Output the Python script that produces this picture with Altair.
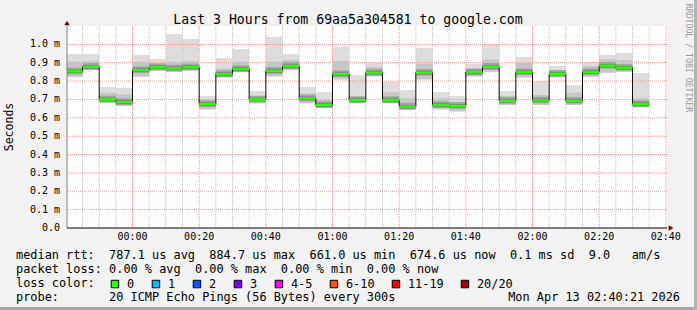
import altair as alt
import pandas as pd

# ---------------- data ----------------
step_start = ["23:40", "23:45", "23:50", "23:55",
              "00:00", "00:05", "00:10", "00:15", "00:20", "00:25", "00:30", "00:35",
              "00:40", "00:45", "00:50", "00:55", "01:00", "01:05", "01:10", "01:15",
              "01:20", "01:25", "01:30", "01:35", "01:40", "01:45", "01:50", "01:55",
              "02:00", "02:05", "02:10", "02:15", "02:20", "02:25", "02:30"]
median_ms = [0.853, 0.878, 0.700, 0.686,
             0.860, 0.876, 0.869, 0.876, 0.675, 0.838, 0.866, 0.700,
             0.856, 0.882, 0.706, 0.670, 0.838, 0.697, 0.846, 0.697,
             0.661, 0.846, 0.670, 0.665, 0.848, 0.878, 0.693, 0.849,
             0.695, 0.840, 0.693, 0.849, 0.884, 0.873, 0.675]
smoke_max = [0.947, 0.947, 0.768, 0.762,
             0.942, 0.920, 1.056, 1.029, 0.719, 0.925, 0.974, 0.746,
             1.041, 0.947, 0.768, 0.740, 0.987, 0.833, 0.900, 0.797,
             0.751, 0.980, 0.740, 0.719, 0.893, 1.002, 0.746, 0.931,
             0.800, 0.882, 0.778, 0.904, 0.942, 0.953, 0.844]
smoke_upper = [0.905, 0.911, 0.737, 0.729,
               0.905, 0.896, 0.905, 0.911, 0.697, 0.869, 0.905, 0.719,
               0.905, 0.915, 0.733, 0.697, 0.911, 0.715, 0.878, 0.740,
               0.706, 0.893, 0.706, 0.688, 0.869, 0.918, 0.719, 0.900,
               0.724, 0.860, 0.737, 0.882, 0.918, 0.915, 0.706]
smoke_min = [0.824, 0.860, 0.682, 0.664,
             0.824, 0.855, 0.851, 0.857, 0.646, 0.820, 0.849, 0.679,
             0.826, 0.860, 0.679, 0.657, 0.809, 0.679, 0.826, 0.679,
             0.646, 0.809, 0.646, 0.635, 0.826, 0.851, 0.670, 0.820,
             0.670, 0.820, 0.670, 0.824, 0.846, 0.851, 0.657]

x_tick_labels = ["00:00", "00:20", "00:40", "01:00", "01:20", "01:40", "02:00", "02:20", "02:40"]
y_tick_values = [0.0, 0.1, 0.2, 0.3, 0.4, 0.5, 0.6, 0.7, 0.8, 0.9, 1.0]
y_tick_labels = ["0.0", "0.1 m", "0.2 m", "0.3 m", "0.4 m", "0.5 m",
                 "0.6 m", "0.7 m", "0.8 m", "0.9 m", "1.0 m"]

loss_labels = ["0", "1", "2", "3", "4-5", "6-10", "11-19", "20/20"]
loss_colors = ["#26ff00", "#00b8ff", "#0059ff", "#7e00ff", "#ff00ff", "#ff5500", "#ff0000", "#a10000"]

title_text = "Last 3 Hours from 69aa5a304581 to google.com"
y_title = "Seconds"
legend_lines = [
    "median rtt:  787.1 us avg  884.7 us max  661.0 us min  674.6 us now  0.1 ms sd  9.0   am/s",
    "packet loss: 0.00 % avg  0.00 % max  0.00 % min  0.00 % now",
    "loss color:",
    "probe:       20 ICMP Echo Pings (56 Bytes) every 300s",
]
date_text = "Mon Apr 13 02:40:21 2026"
watermark = "RRDTOOL / TOBI OETIKER"

# ---------------- build tables ----------------
STEP = 5  # minutes per sample


def to_min(s):
    h, m = map(int, s.split(":"))
    v = h * 60 + m
    return v - 1440 if h >= 12 else v


X0 = to_min("23:40") + 21 / 60
X1 = to_min("02:40") + 21 / 60

t0 = [to_min(s) for s in step_start]
df = pd.DataFrame({
    "t": t0,
    "t_end": [t + STEP for t in t0],
    "med": median_ms,
    "smax": smoke_max,
    "supper": smoke_upper,
    "smin": smoke_min,
})
df_line = pd.DataFrame({
    "t": t0 + [t0[-1] + STEP],
    "med": median_ms + [median_ms[-1]],
})
df_loss = pd.DataFrame({"loss": loss_labels})

x_major = [to_min(s) for s in x_tick_labels]
x_minor = [v for v in range(to_min("23:45"), to_min("02:40") + 1, STEP) if v not in x_major]
df_xmajor = pd.DataFrame({"t": x_major, "lab": x_tick_labels, "v": [0.0] * len(x_major)})
df_xminor = pd.DataFrame({"t": x_minor})
df_y = pd.DataFrame({"v": y_tick_values, "lab": y_tick_labels, "t": [X0] * len(y_tick_values)})
df_y_grid = df_y[df_y["v"] > 0]

MONO = "DejaVu Sans Mono"
xscale = alt.Scale(domain=[X0, X1], nice=False, zero=False)
yscale = alt.Scale(domain=[0, 1.1], nice=False, zero=True)
GRID_RED = "#f09a9a"
GRID_GRAY = "#c4c4c4"

NOX = dict(axis=None)

# ---------------- smoke, median ----------------
base = alt.Chart(df)
smoke_outer = base.mark_rect(color="#dddddd", clip=True).encode(
    x=alt.X("t:Q", scale=xscale, axis=None), x2="t_end:Q",
    y=alt.Y("smin:Q", scale=yscale, axis=None), y2="smax:Q",
)
smoke_mid = base.mark_rect(color="#c6c6c6", clip=True).encode(
    x=alt.X("t:Q", axis=None), x2="t_end:Q",
    y=alt.Y("smin:Q", axis=None), y2="supper:Q",
)
smoke_core = base.transform_calculate(
    c_lo="datum.med - 0.016", c_hi="datum.med + 0.02"
).mark_rect(color="#a2a2a2", clip=True).encode(
    x=alt.X("t:Q", axis=None), x2="t_end:Q",
    y=alt.Y("c_lo:Q", axis=None), y2="c_hi:Q",
)
smoke_dark = base.transform_calculate(
    d_lo="datum.med - 0.009", d_hi="datum.med + 0.009"
).mark_rect(color="#6e6e6e", clip=True).encode(
    x=alt.X("t:Q", axis=None), x2="t_end:Q",
    y=alt.Y("d_lo:Q", axis=None), y2="d_hi:Q",
)
med_line = alt.Chart(df_line).mark_line(
    interpolate="step-after", color="#1a0a0a", strokeWidth=1, clip=True
).encode(
    x=alt.X("t:Q", axis=None), y=alt.Y("med:Q", axis=None),
)
med_green = base.mark_rule(color="#26ff00", strokeWidth=2.5, clip=True).encode(
    x=alt.X("t:Q", axis=None), x2="t_end:Q", y=alt.Y("med:Q", axis=None),
)

# ---------------- grid & axes (drawn through the scales) ----------------
grid_minor = alt.Chart(df_xminor).mark_rule(color=GRID_GRAY, strokeDash=[1, 1], strokeWidth=1).encode(
    x=alt.X("t:Q", axis=None),
)
grid_major = alt.Chart(df_xmajor).mark_rule(color=GRID_RED, strokeDash=[1, 1], strokeWidth=1).encode(
    x=alt.X("t:Q", axis=None),
)
grid_y = alt.Chart(df_y_grid).mark_rule(color=GRID_RED, strokeDash=[1, 1], strokeWidth=1).encode(
    y=alt.Y("v:Q", axis=None),
)
x_labels = alt.Chart(df_xmajor).mark_text(
    font=MONO, fontSize=10, color="black", baseline="middle", align="center", dy=9
).encode(
    x=alt.X("t:Q", axis=None), y=alt.Y("v:Q", axis=None), text="lab:N",
)
y_labels = alt.Chart(df_y).mark_text(
    font=MONO, fontSize=10, color="black", baseline="middle", align="right", dx=-7
).encode(
    x=alt.X("t:Q", axis=None), y=alt.Y("v:Q", axis=None), text="lab:N",
)
x_domain_line = alt.Chart(df_y[df_y["v"] == 0]).mark_rule(color="black", strokeWidth=1).encode(
    y=alt.Y("v:Q", axis=None),
)
y_domain_line = alt.Chart(df_y[df_y["v"] == 0]).mark_rule(color="#808080", strokeWidth=1).encode(
    x=alt.X("t:Q", axis=None),
)

loss_legend = alt.Chart(df_loss).mark_square(
    filled=True, opacity=1, stroke="black", strokeWidth=1, clip=True
).encode(
    x=alt.value(-500), y=alt.value(-500),
    color=alt.Color(
        "loss:N",
        scale=alt.Scale(domain=loss_labels, range=loss_colors),
        legend=alt.Legend(
            orient="none", legendX=42, legendY=252, direction="horizontal",
            title=None, symbolType="square", symbolSize=56,
            symbolStrokeColor="black", symbolStrokeWidth=1, symbolOpacity=1,
            labelFont=MONO, labelFontSize=11.9, labelColor="black",
            labelOffset=6, columnPadding=15, padding=0,
        ),
    ),
)


def text_layer(s, x, y, size, color="black", align="left", angle=0, baseline="alphabetic"):
    return alt.Chart(pd.DataFrame({"s": [s.replace(" ", "\u00a0")]})).mark_text(
        font=MONO, fontSize=size, color=color, align=align, baseline=baseline, angle=angle
    ).encode(text="s:N", x=alt.value(x), y=alt.value(y))


texts = [
    text_layer(title_text, 281, -2, 13.2, align="center"),
    text_layer(y_title, -57, 101, 11.5, align="center", angle=270, baseline="middle"),
    text_layer(legend_lines[0], -51, 233, 11.9),
    text_layer(legend_lines[1], -51, 247, 11.9),
    text_layer(legend_lines[2], -51, 261, 11.9),
    text_layer(legend_lines[3], -51, 275, 11.9),
    text_layer(date_text, 613, 275, 11.9, align="right"),
    text_layer(watermark, 621, 32, 8.2, color="#9a9a9a", align="center", angle=90, baseline="middle"),
]

arrows = [
    alt.Chart(pd.DataFrame({"a": [0]})).mark_point(
        shape="triangle-up", filled=True, color="#7a0000", size=30, opacity=1
    ).encode(x=alt.value(0), y=alt.value(-3)),
    alt.Chart(pd.DataFrame({"a": [0]})).mark_point(
        shape="triangle-right", filled=True, color="#7a0000", size=30, opacity=1
    ).encode(x=alt.value(604), y=alt.value(202)),
]

frame = [
    alt.Chart(pd.DataFrame({"a": [0]})).mark_rule(color="#a8a8a8", strokeWidth=3).encode(
        x=alt.value(-67), x2=alt.value(630), y=alt.value(282.5)),
    alt.Chart(pd.DataFrame({"a": [0]})).mark_rule(color="#b4b4b4", strokeWidth=3).encode(
        x=alt.value(628.5), y=alt.value(-26), y2=alt.value(284)),
]

chart = alt.layer(
    smoke_outer, grid_minor, grid_major, grid_y,
    smoke_mid, smoke_core, smoke_dark, med_line, med_green,
    x_domain_line, y_domain_line, x_labels, y_labels, loss_legend,
    *texts, *arrows, *frame
).properties(
    width=600, height=202,
    padding={"left": 67, "top": 26, "right": 30, "bottom": 82},
    autosize=alt.AutoSizeParams(type="none"),
    background="#f2f2f2",
).configure_view(
    fill="white", stroke=None
)

chart.save("out.html", embed_options={"renderer": "svg", "actions": False})
